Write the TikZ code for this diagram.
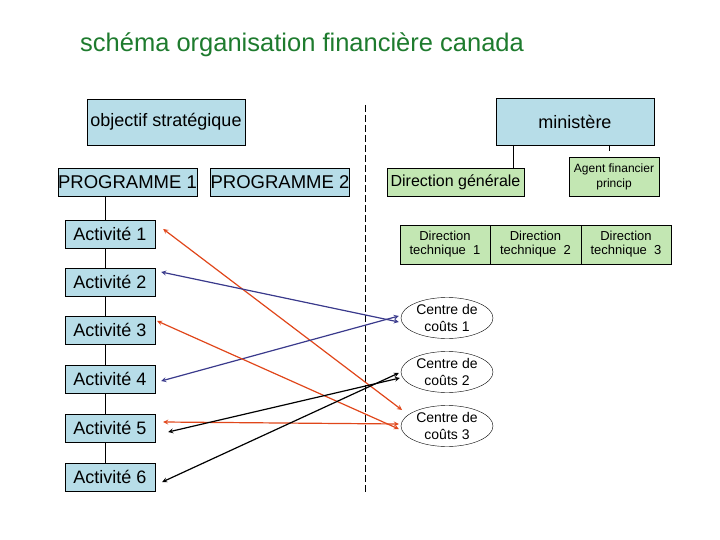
\documentclass[tikz,border=0pt]{standalone}
\usepackage{fontspec}
\setmainfont{Liberation Sans}
\begin{document}
\begin{tikzpicture}[x=1pt,y=-1pt,
 bl/.style={draw,fill=blu,inner sep=0pt},
 gr/.style={draw,fill=grn,inner sep=0pt,font=\fontsize{13}{14}\selectfont},
 ar/.style={<->,>=stealth,line width=1.2pt},
 ell/.style={draw,ellipse,minimum width=92pt,minimum height=41pt,inner sep=0pt,align=center,font=\fontsize{14}{16.5}\selectfont}]
\definecolor{blu}{HTML}{B7DDE8}
\definecolor{grn}{HTML}{C3E7B3}
\definecolor{tgreen}{HTML}{1E7B2E}
\definecolor{ored}{HTML}{E0461A}
\definecolor{nav}{HTML}{3A3A8C}
\usetikzlibrary{shapes.geometric}
\useasboundingbox (0,0) rectangle (720,540);
\node[font=\fontsize{25.5}{27}\selectfont,text=tgreen,anchor=west,inner sep=0pt] (title) at (80,45) {schéma organisation financière canada};
% left
\node[bl,minimum width=158pt,minimum height=46pt,font=\fontsize{18}{20}\selectfont] (obj) at (166,122) {objectif stratégique};
\node[bl,minimum width=135pt,minimum height=28pt,font=\fontsize{18.5}{20}\selectfont] (p1) at (127.5,182) {PROGRAMME 1};
\node[bl,minimum width=136pt,minimum height=28pt,font=\fontsize{18.5}{20}\selectfont] (p2) at (280,182) {PROGRAMME 2};
\foreach \i/\y in {1/234,2/282,3/330,4/379,5/428,6/477}
 \node[bl,minimum width=90pt,minimum height=28pt,font=\fontsize{18}{20}\selectfont] (a\i) at (110,\y) {Activité \i};
\draw (105,196) -- (105,220);
\foreach \i/\j in {1/2,2/3,3/4,4/5,5/6} \draw (a\i.south -| 105,0) -- (a\j.north -| 105,0);
\draw[dash pattern=on 7pt off 3pt] (365,105) -- (365,492);
% right
\node[bl,minimum width=158pt,minimum height=47pt,font=\fontsize{18}{20}\selectfont] (min) at (575,122) {ministère};
\node[gr,minimum width=137pt,minimum height=28pt,font=\fontsize{16}{18}\selectfont] (dg) at (455.5,182) {Direction générale};
\node[gr,minimum width=90pt,minimum height=39pt,align=center,font=\fontsize{12}{15}\selectfont] (af) at (614,176.5) {Agent financier\\princip};
\draw (513,145) -- (513,168);
\draw (609,145) -- (609,151);
\node[gr,minimum width=90pt,minimum height=39pt,align=center] (d1) at (445,244.5) {Direction\\technique\ \ 1};
\node[gr,minimum width=91pt,minimum height=39pt,align=center] (d2) at (535.5,244.5) {Direction\\technique\ \ 2};
\node[gr,minimum width=90pt,minimum height=39pt,align=center] (d3) at (626,244.5) {Direction\\technique\ \ 3};
\node[ell] (c1) at (447,318) {Centre de\\coûts 1};
\node[ell] (c2) at (447,372) {Centre de\\coûts 2};
\node[ell] (c3) at (447,426) {Centre de\\coûts 3};
% arrows
\coordinate (e1) at (402,410);
\draw[ar,ored] ([xshift=8pt,yshift=5pt]a1.east) -- (e1);
\draw[ar,nav] ([xshift=6pt,yshift=10pt]a2.east) -- ([xshift=-2pt,yshift=-4pt]c1.west);
\draw[ar,nav] ([xshift=6pt,yshift=-2pt]a4.east) -- ([xshift=-2pt,yshift=2pt]c1.west);
\draw[ar,ored] ([xshift=2pt,yshift=9pt]a3.east) -- ([xshift=-2pt,yshift=-3pt]c3.west);
\draw[ar,ored] ([xshift=8pt,yshift=6pt]a5.east) -- ([xshift=-2pt,yshift=2pt]c3.west);
\draw[ar] ([xshift=13pt,yshift=-4pt]a5.east) -- ([xshift=-1pt,yshift=-6pt]c2.west);
\draw[ar] ([xshift=7pt,yshift=-5pt]a6.east) -- ([xshift=-2pt,yshift=-1pt]c2.west);
\end{tikzpicture}
\end{document}
